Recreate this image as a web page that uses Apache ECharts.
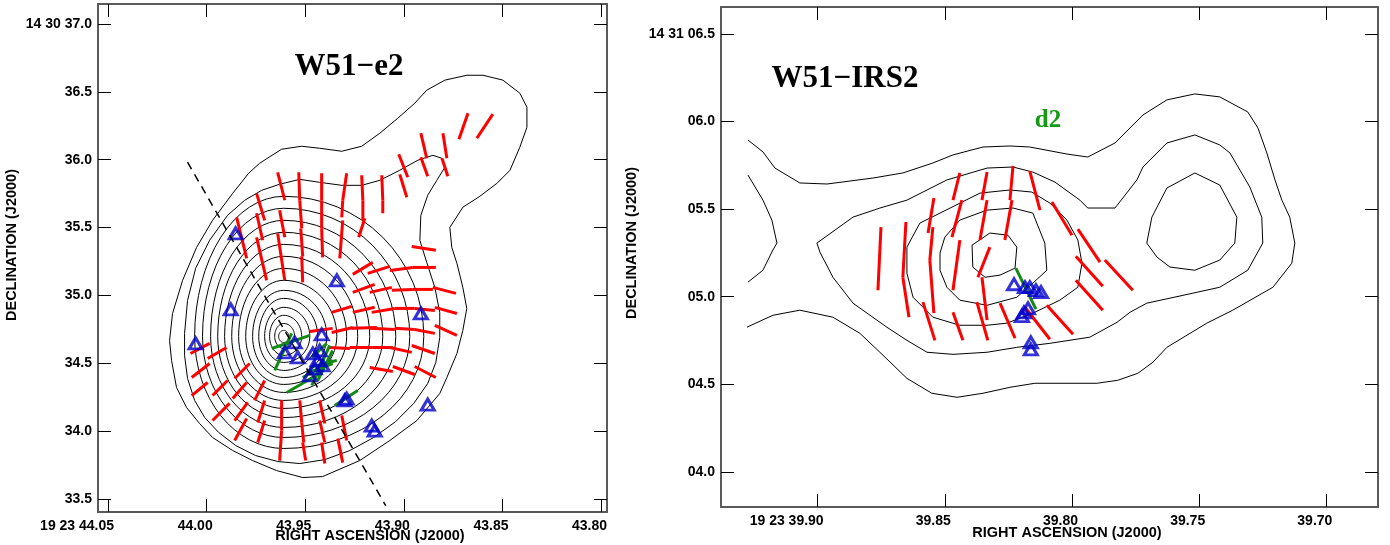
<!DOCTYPE html>
<html><head><meta charset="utf-8">
<script src="https://cdn.jsdelivr.net/npm/echarts@6/dist/echarts.min.js"></script>
<style>html,body{margin:0;padding:0;background:#fff}#c{width:1390px;height:545px}</style>
</head><body><div id="c"></div><script>
// ---------- tick values / labels ----------
const raTicksL = [44.05, 44.00, 43.95, 43.90, 43.85, 43.80];
const raLabelsL = ['19 23 44.05', '44.00', '43.95', '43.90', '43.85', '43.80'];
const decTicksL = [33.5, 34.0, 34.5, 35.0, 35.5, 36.0, 36.5, 37.0];
const decLabelsL = ['33.5', '34.0', '34.5', '35.0', '35.5', '36.0', '36.5', '14 30 37.0'];
const raTicksR = [39.90, 39.85, 39.80, 39.75, 39.70];
const raLabelsR = ['19 23 39.90', '39.85', '39.80', '39.75', '39.70'];
const decTicksR = [4.0, 4.5, 5.0, 5.5, 6.0, 6.5];
const decLabelsR = ['04.0', '04.5', '05.0', '05.5', '06.0', '14 31 06.5'];

// ---------- W51-e2 (left) ----------
const contourOuterL = [[44.0188,34.668],[44.0173,34.867],[44.0122,35.111],[44.0051,35.354],[43.9970,35.553],[43.9868,35.752],[43.9787,35.900],[43.9731,35.974],[43.9620,36.077],[43.9518,36.099],[43.9427,36.084],[43.9315,36.062],[43.9214,36.099],[43.9122,36.195],[43.9031,36.305],[43.8945,36.416],[43.8884,36.512],[43.8792,36.586],[43.8681,36.622],[43.8599,36.622],[43.8498,36.586],[43.8412,36.490],[43.8376,36.387],[43.8376,36.239],[43.8412,36.092],[43.8462,35.922],[43.8528,35.826],[43.8615,35.730],[43.8701,35.649],[43.8767,35.501],[43.8757,35.354],[43.8731,35.236],[43.8701,35.059],[43.8681,34.904],[43.8701,34.742],[43.8731,34.572],[43.8782,34.395],[43.8818,34.277],[43.8934,34.078],[43.9071,33.931],[43.9224,33.783],[43.9412,33.665],[43.9513,33.658],[43.9645,33.709],[43.9767,33.783],[43.9868,33.857],[43.9970,33.953],[44.0036,34.056],[44.0102,34.174],[44.0153,34.322],[44.0178,34.521],[44.0188,34.668]];
const contourSecondL = [[44.0112,34.720],[44.0097,34.963],[44.0056,35.199],[43.9985,35.406],[43.9894,35.590],[43.9807,35.701],[43.9721,35.774],[43.9630,35.819],[43.9528,35.855],[43.9427,35.833],[43.9315,35.811],[43.9214,35.811],[43.9122,35.848],[43.9021,35.922],[43.8929,35.996],[43.8853,36.032],[43.8807,36.010],[43.8792,35.944],[43.8833,35.848],[43.8879,35.738],[43.8914,35.590],[43.8919,35.406],[43.8884,35.243],[43.8843,35.059],[43.8818,34.875],[43.8818,34.690],[43.8838,34.506],[43.8879,34.351],[43.8950,34.204],[43.9041,34.071],[43.9153,33.953],[43.9274,33.857],[43.9401,33.790],[43.9528,33.761],[43.9640,33.776],[43.9752,33.820],[43.9853,33.894],[43.9939,33.990],[44.0010,34.100],[44.0061,34.226],[44.0097,34.388],[44.0112,34.558],[44.0112,34.720]];
// inner closed contours around the peak: [east RA, west RA, north Dec, south Dec]
const peakL = [43.9609, 34.698];
const innerLevelsL = [
  [43.9635,43.9584,34.742,34.653],[43.9655,43.9554,34.793,34.609],[43.9681,43.9518,34.853,34.558],
  [43.9706,43.9477,34.912,34.506],[43.9736,43.9437,34.978,34.447],[43.9767,43.9391,35.037,34.395],
  [43.9802,43.9340,35.111,34.344],[43.9838,43.9290,35.199,34.285],[43.9873,43.9234,35.288,34.226],
  [43.9909,43.9173,35.376,34.167],[43.9944,43.9107,35.465,34.100],[43.9980,43.9041,35.553,34.027],
  [44.0021,43.8970,35.642,33.953],[44.0061,43.8899,35.730,33.872]];
// polarization segments [ra1, dec1, ra2, dec2]
const redL = [
 [43.8675,36.342,43.8721,36.150],[43.8549,36.335,43.8630,36.158],[43.8914,36.195,43.8884,36.010],[43.8802,36.195,43.8782,36.010],
 [43.9026,36.040,43.8980,35.870],[43.8914,36.018,43.8879,35.878],[43.8807,36.010,43.8777,35.878],[43.9021,35.892,43.8985,35.723],
 [43.9112,35.885,43.9107,35.701],[43.9214,35.885,43.9208,35.701],[43.9290,35.900,43.9310,35.701],[43.9417,35.900,43.9417,35.701],
 [43.9533,35.907,43.9528,35.701],[43.9640,35.907,43.9604,35.701],[43.9747,35.752,43.9706,35.553],[43.9848,35.575,43.9797,35.273],
 [43.9747,35.605,43.9716,35.406],[43.9630,35.627,43.9604,35.428],[43.9747,35.428,43.9696,35.111],[43.9640,35.457,43.9604,35.111],
 [43.9528,35.701,43.9518,35.494],[43.9523,35.494,43.9513,35.288],[43.9518,35.288,43.9513,35.096],
 [43.9417,35.701,43.9417,35.494],[43.9417,35.494,43.9412,35.280],
 [43.9310,35.701,43.9315,35.575],[43.9310,35.553,43.9325,35.273],
 [43.9208,35.701,43.9208,35.553],[43.9198,35.568,43.9229,35.428],[43.9107,35.701,43.9107,35.605],
 [43.8960,35.361,43.8838,35.332],[43.9259,35.155,43.9158,35.243],[43.9183,35.162,43.9071,35.214],[43.9071,35.184,43.8955,35.206],
 [43.8955,35.206,43.8838,35.206],[43.9259,35.022,43.9148,35.081],[43.9173,35.022,43.9061,35.059],[43.9061,35.037,43.8955,35.044],
 [43.8955,35.044,43.8853,35.044],[43.8853,35.059,43.8736,35.015],[43.9366,34.875,43.9264,34.919],[43.9259,34.875,43.9148,34.912],
 [43.9163,34.875,43.9046,34.904],[43.9046,34.904,43.8945,34.904],[43.8945,34.904,43.8843,34.889],[43.8843,34.912,43.8731,34.867],
 [43.9477,34.734,43.9361,34.757],[43.9366,34.727,43.9259,34.764],[43.9264,34.757,43.9137,34.764],[43.9173,34.757,43.9046,34.749],
 [43.9046,34.757,43.8945,34.749],[43.8945,34.749,43.8843,34.720],[43.8843,34.779,43.8731,34.705],
 [43.9376,34.616,43.9274,34.609],[43.9274,34.616,43.9158,34.616],[43.9158,34.616,43.9056,34.616],[43.9071,34.616,43.8960,34.580],
 [43.8960,34.631,43.8843,34.572],[43.9173,34.469,43.9056,34.439],[43.9056,34.476,43.8945,34.417],[43.8945,34.476,43.8838,34.395],
 [44.0082,34.572,43.9985,34.646],[43.9995,34.535,43.9899,34.616],[44.0076,34.395,43.9985,34.498],[43.9858,34.388,43.9782,34.498],
 [44.0076,34.262,43.9995,34.358],[43.9970,34.262,43.9894,34.373],[43.9868,34.240,43.9797,34.358],[43.9757,34.226,43.9706,34.373],
 [43.9970,34.078,43.9884,34.204],[43.9858,34.078,43.9792,34.211],[43.9858,33.931,43.9797,34.093],[43.9741,34.063,43.9706,34.226],
 [43.9741,33.916,43.9706,34.078],
 [43.9620,34.226,43.9620,34.004],[43.9620,34.004,43.9630,33.783],
 [43.9528,34.226,43.9518,34.063],[43.9518,34.063,43.9508,33.916],[43.9513,33.916,43.9498,33.783],
 [43.9427,34.226,43.9401,34.056],[43.9427,34.078,43.9401,33.916],[43.9417,33.916,43.9401,33.761],
 [43.9315,34.115,43.9290,33.931],[43.9335,33.945,43.9310,33.768]];
const greenL = [
 [43.9670,34.609,43.9477,34.705],[43.9655,34.447,43.9569,34.720],[43.9467,34.543,43.9391,34.646],[43.9477,34.469,43.9340,34.521],
 [43.9493,34.425,43.9361,34.498],[43.9594,34.285,43.9427,34.425],[43.9513,34.395,43.9361,34.521],[43.9351,34.189,43.9234,34.299],
 [43.9467,34.336,43.9376,34.631],[43.9437,34.373,43.9361,34.594]];
const masersL = [[43.9853,35.457],[43.9878,34.897],[44.0056,34.646],[43.9340,35.111],[43.9417,34.712],[43.9554,34.653],
 [43.9604,34.580],[43.9538,34.543],[43.8914,34.867],[43.8879,34.196],[43.9163,34.041],[43.9148,34.004],[43.9290,34.240],
 [43.9462,34.572],[43.9427,34.594],[43.9437,34.521],[43.9452,34.462],[43.9477,34.410],[43.9412,34.484],[43.9300,34.226]];
const axisLineL = [[44.0097,35.981],[43.9092,33.451]];

// ---------- W51-IRS2 (right) ----------
const contourOuterR = [[39.9274,5.894],[39.9215,5.826],[39.9168,5.734],[39.9070,5.649],[39.8963,5.643],[39.8783,5.677],[39.8665,5.706],[39.8547,5.763],[39.8468,5.809],[39.8350,5.854],[39.8244,5.860],[39.8166,5.854],[39.8020,5.814],[39.7938,5.797],[39.7831,5.877],[39.7721,6.037],[39.7627,6.123],[39.7517,6.157],[39.7419,6.140],[39.7309,6.054],[39.7269,5.963],[39.7234,5.820],[39.7202,5.666],[39.7175,5.551],[39.7144,5.454],[39.7124,5.306],[39.7136,5.191],[39.7210,5.054],[39.7368,4.923],[39.7470,4.849],[39.7627,4.711],[39.7682,4.626],[39.7741,4.563],[39.7820,4.523],[39.7902,4.506],[39.8000,4.506],[39.8146,4.506],[39.8244,4.483],[39.8350,4.449],[39.8452,4.426],[39.8551,4.449],[39.8649,4.534],[39.8743,4.666],[39.8834,4.791],[39.8940,4.883],[39.9070,4.923],[39.9176,4.894],[39.9278,4.826]];
const contourEdgeR = [[39.9274,5.694],[39.9215,5.551],[39.9180,5.437],[39.9160,5.306],[39.9176,5.266],[39.9215,5.151],[39.9274,5.083]];
const contourSecondR = [[39.9003,5.306],[39.8861,5.454],[39.8755,5.506],[39.8649,5.551],[39.8492,5.666],[39.8334,5.734],[39.8232,5.740],[39.8154,5.711],[39.8067,5.654],[39.7969,5.551],[39.7938,5.506],[39.7831,5.506],[39.7745,5.666],[39.7721,5.740],[39.7627,5.877],[39.7517,5.923],[39.7419,5.866],[39.7379,5.820],[39.7301,5.626],[39.7254,5.454],[39.7250,5.306],[39.7309,5.151],[39.7419,5.054],[39.7525,5.020],[39.7706,4.963],[39.7772,4.911],[39.7823,4.854],[39.7930,4.769],[39.8087,4.734],[39.8217,4.711],[39.8334,4.683],[39.8468,4.671],[39.8570,4.683],[39.8649,4.751],[39.8728,4.826],[39.8861,4.963],[39.8940,5.111],[39.8991,5.254],[39.9003,5.306]];
const contourThirdR = [[39.8649,5.283],[39.8598,5.420],[39.8519,5.477],[39.8362,5.591],[39.8244,5.609],[39.8158,5.597],[39.8087,5.534],[39.8020,5.437],[39.7977,5.323],[39.7961,5.191],[39.7977,5.054],[39.8048,4.980],[39.8154,4.906],[39.8256,4.849],[39.8334,4.837],[39.8441,4.837],[39.8547,4.883],[39.8625,4.997],[39.8649,5.134],[39.8649,5.283]];
const contourFourthR = [[39.8519,5.249],[39.8500,5.340],[39.8441,5.437],[39.8334,5.494],[39.8232,5.506],[39.8154,5.477],[39.8107,5.306],[39.8099,5.151],[39.8154,5.077],[39.8217,4.997],[39.8334,4.951],[39.8441,4.980],[39.8492,5.054],[39.8519,5.151],[39.8519,5.249]];
const contourPeakR = [[39.8393,5.294],[39.8323,5.363],[39.8252,5.351],[39.8217,5.283],[39.8224,5.163],[39.8283,5.123],[39.8342,5.111],[39.8390,5.169],[39.8393,5.294]];
const contourPeak2R = [[39.7686,5.454],[39.7627,5.620],[39.7517,5.706],[39.7419,5.637],[39.7352,5.454],[39.7360,5.306],[39.7419,5.209],[39.7517,5.151],[39.7615,5.169],[39.7666,5.226],[39.7706,5.306],[39.7686,5.454]];
const redR = [
 [39.8751,5.397,39.8763,5.037],[39.8653,5.426,39.8665,5.111],[39.8665,5.111,39.8641,4.883],[39.8543,5.563,39.8566,5.363],
 [39.8547,5.397,39.8559,5.209],[39.8559,5.209,39.8543,4.906],[39.8586,4.969,39.8539,4.751],[39.8441,5.706,39.8468,5.551],
 [39.8433,5.551,39.8472,5.340],[39.8441,5.323,39.8468,5.037],[39.8468,4.911,39.8429,4.751],[39.8334,5.711,39.8354,5.551],
 [39.8334,5.551,39.8362,5.323],[39.8323,5.283,39.8370,5.111],[39.8354,5.111,39.8334,4.866],[39.8374,4.969,39.8331,4.751],
 [39.8232,5.746,39.8244,5.551],[39.8236,5.551,39.8264,5.323],[39.8283,4.963,39.8224,4.763],[39.8166,5.717,39.8126,5.494],
 [39.8079,5.540,39.8000,5.351],[39.7977,5.386,39.7890,5.197],[39.7985,5.231,39.7879,5.060],[39.7871,5.209,39.7761,5.037],
 [39.7985,5.094,39.7879,4.923],[39.8099,4.951,39.7996,4.786],[39.8185,4.940,39.8087,4.757]];
const greenR = [[39.8221,5.163,39.8142,4.929]];
const masersR = [[39.8228,5.071],[39.8185,5.054],[39.8166,5.054],[39.8142,5.037],[39.8122,5.026],[39.8197,4.889],[39.8189,4.911],[39.8173,4.934],[39.8162,4.740],[39.8162,4.700]];

// ---------- helpers ----------
const FRAME = '#5a5a5a';
const SANS = 'Liberation Sans, Arial, sans-serif';
const SERIF = 'Liberation Serif, Times New Roman, serif';
function fmt(ticks, labels) {
  return v => { const i = ticks.findIndex(t => Math.abs(t - v) < 1e-6); return i < 0 ? '' : labels[i]; };
}
function xAxes(g, min, max, ticks, labels) {
  const base = {gridIndex: g, type: 'value', min, max, inverse: true, splitLine: {show: false},
    axisLine: {show: true, onZero: false, lineStyle: {color: FRAME, width: 2}}};
  return [
    Object.assign({}, base, {position: 'bottom',
      axisTick: {show: true, inside: true, length: 13, customValues: ticks, lineStyle: {color: '#000', width: 1}},
      axisLabel: {show: true, customValues: ticks, formatter: fmt(ticks, labels), align: 'right', margin: 7,
        padding: [0, -6, 0, 0], fontSize: 14, fontWeight: 'bold', color: '#000', fontFamily: SANS}}),
    Object.assign({}, base, {position: 'top',
      axisTick: {show: true, inside: true, length: 13, customValues: ticks, lineStyle: {color: '#000', width: 1}},
      axisLabel: {show: false}})
  ];
}
function yAxes(g, min, max, ticks, labels) {
  const base = {gridIndex: g, type: 'value', min, max, splitLine: {show: false},
    axisLine: {show: true, onZero: false, lineStyle: {color: FRAME, width: 2}}};
  return [
    Object.assign({}, base, {position: 'left',
      axisTick: {show: true, inside: true, length: 13, customValues: ticks, lineStyle: {color: '#000', width: 1}},
      axisLabel: {show: true, customValues: ticks, formatter: fmt(ticks, labels), margin: 6,
        fontSize: 14, fontWeight: 'bold', color: '#000', fontFamily: SANS}}),
    Object.assign({}, base, {position: 'right',
      axisTick: {show: true, inside: true, length: 13, customValues: ticks, lineStyle: {color: '#000', width: 1}},
      axisLabel: {show: false}})
  ];
}
function lineSeries(pts, xi, yi, extra) {
  return Object.assign({type: 'line', xAxisIndex: xi, yAxisIndex: yi, data: pts, showSymbol: false, symbol: 'none',
    lineStyle: {color: '#000', width: 1}, silent: true, animation: false, z: 2}, extra || {});
}
function segSeries(data, color, width, xi, yi, z) {
  return {type: 'custom', xAxisIndex: xi, yAxisIndex: yi, data, silent: true, animation: false, z: z,
    renderItem: (p, api) => {
      const a = api.coord([api.value(0), api.value(1)]);
      const b = api.coord([api.value(2), api.value(3)]);
      return {type: 'line', shape: {x1: a[0], y1: a[1], x2: b[0], y2: b[1]},
        style: {stroke: color, lineWidth: width, lineCap: 'butt'}};
    }};
}
function eggSeries(levels, peak, xi, yi) {
  return {type: 'custom', xAxisIndex: xi, yAxisIndex: yi, data: levels, silent: true, animation: false, z: 2,
    renderItem: (p, api) => {
      const c = api.coord(peak);
      const rl = c[0] - api.coord([api.value(0), peak[1]])[0];
      const rr = api.coord([api.value(1), peak[1]])[0] - c[0];
      const rt = c[1] - api.coord([peak[0], api.value(2)])[1];
      const rb = api.coord([peak[0], api.value(3)])[1] - c[1];
      const pts = [];
      for (let k = 0; k < 64; k++) {
        const t = 2 * Math.PI * k / 64, cs = Math.cos(t), sn = Math.sin(t);
        pts.push([c[0] + (cs >= 0 ? rr : rl) * cs, c[1] + (sn >= 0 ? rb : rt) * sn]);
      }
      return {type: 'polygon', shape: {points: pts}, style: {fill: 'none', stroke: '#000', lineWidth: 1}};
    }};
}
function maserSeries(pts, xi, yi) {
  return {type: 'scatter', xAxisIndex: xi, yAxisIndex: yi, data: pts, symbol: 'triangle', symbolSize: [13, 11],
    itemStyle: {color: 'rgba(0,0,0,0)', borderColor: '#0000cc', borderWidth: 3}, silent: true, animation: false, z: 6};
}

const chart = echarts.init(document.getElementById('c'), null, {renderer: 'canvas'});
chart.setOption({
  animation: false,
  backgroundColor: '#fff',
  grid: [
    {left: 98, top: 4, width: 509, height: 508},
    {left: 721, top: 7, width: 657, height: 500}
  ],
  xAxis: [].concat(xAxes(0, 43.797, 44.0551, raTicksL, raLabelsL), xAxes(1, 39.6797, 39.938, raTicksR, raLabelsR)),
  yAxis: [].concat(yAxes(0, 33.404, 37.147, decTicksL, decLabelsL), yAxes(1, 3.80, 6.653, decTicksR, decLabelsR)),
  series: [
    lineSeries(contourOuterL, 0, 0),
    lineSeries(contourSecondL, 0, 0),
    eggSeries(innerLevelsL, peakL, 0, 0),
    segSeries(redL, '#ff0000', 3, 0, 0, 4),
    segSeries(greenL, '#138a13', 3, 0, 0, 5),
    maserSeries(masersL, 0, 0),
    lineSeries(axisLineL, 0, 0, {lineStyle: {color: '#000', width: 1.5, type: [8, 6]}, z: 7}),

    lineSeries(contourOuterR, 2, 2),
    lineSeries(contourEdgeR, 2, 2),
    lineSeries(contourSecondR, 2, 2),
    lineSeries(contourThirdR, 2, 2),
    lineSeries(contourFourthR, 2, 2),
    lineSeries(contourPeakR, 2, 2),
    lineSeries(contourPeak2R, 2, 2),
    segSeries(redR, '#ff0000', 3, 2, 2, 4),
    segSeries(greenR, '#138a13', 3, 2, 2, 5),
    maserSeries(masersR, 2, 2)
  ],
  graphic: [
    {type: 'text', x: 349, y: 67, style: {text: 'W51\u2212e2', font: 'bold 31px ' + SERIF, fill: '#000', align: 'center', verticalAlign: 'middle'}},
    {type: 'text', x: 845, y: 79, style: {text: 'W51\u2212IRS2', font: 'bold 31px ' + SERIF, fill: '#000', align: 'center', verticalAlign: 'middle'}},
    {type: 'text', x: 1048, y: 121, style: {text: 'd2', font: 'bold 25px ' + SERIF, fill: '#139a13', align: 'center', verticalAlign: 'middle'}},
    {type: 'text', x: 370, y: 536, style: {text: 'RIGHT ASCENSION (J2000)', font: 'bold 14.5px ' + SANS, fill: '#000', align: 'center', verticalAlign: 'middle'}},
    {type: 'text', x: 1067, y: 533, style: {text: 'RIGHT ASCENSION (J2000)', font: 'bold 14.5px ' + SANS, fill: '#000', align: 'center', verticalAlign: 'middle'}},
    {type: 'text', x: 12, y: 245, rotation: Math.PI / 2, style: {text: 'DECLINATION (J2000)', font: 'bold 14.5px ' + SANS, fill: '#000', align: 'center', verticalAlign: 'middle'}},
    {type: 'text', x: 632, y: 243, rotation: Math.PI / 2, style: {text: 'DECLINATION (J2000)', font: 'bold 14.5px ' + SANS, fill: '#000', align: 'center', verticalAlign: 'middle'}}
  ]
});
</script></body></html>
